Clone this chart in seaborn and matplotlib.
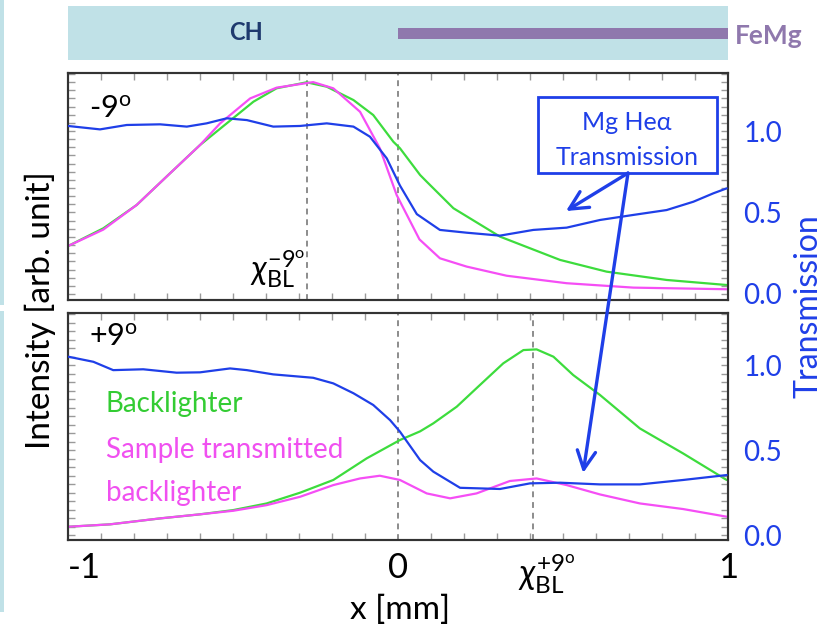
import matplotlib
matplotlib.use("Agg")
import matplotlib.pyplot as plt
import seaborn as sns
import pandas as pd
from matplotlib.patches import Rectangle, ConnectionPatch
from matplotlib.ticker import MultipleLocator, FixedLocator, NullFormatter, FormatStrFormatter
from matplotlib.transforms import ScaledTranslation

# ---------------- data ----------------
# -9 degree view
m9_bl_x = [-1.0, -0.893, -0.792, -0.691, -0.600, -0.519, -0.438, -0.368, -0.277, -0.216,
           -0.135, -0.075, -0.014, 0.006, 0.067, 0.087, 0.168, 0.309, 0.491, 0.632, 0.814, 0.996]
m9_bl_y = [0.294, 0.403, 0.546, 0.740, 0.914, 1.047, 1.180, 1.262, 1.299, 1.272,
           1.190, 1.098, 0.934, 0.894, 0.730, 0.689, 0.526, 0.352, 0.209, 0.137, 0.086, 0.055]

m9_st_x = [-1.0, -0.893, -0.792, -0.691, -0.600, -0.539, -0.448, -0.368, -0.257, -0.196,
           -0.115, -0.055, -0.004, 0.065, 0.127, 0.208, 0.329, 0.511, 0.713, 0.996]
m9_st_y = [0.294, 0.395, 0.546, 0.740, 0.914, 1.047, 1.200, 1.266, 1.300, 1.262,
           1.118, 0.894, 0.607, 0.335, 0.219, 0.168, 0.112, 0.066, 0.039, 0.029]

m9_tr_x = [-1.0, -0.903, -0.822, -0.721, -0.640, -0.580, -0.519, -0.458, -0.378, -0.297,
           -0.216, -0.135, -0.085, -0.034, 0.006, 0.057, 0.127, 0.208, 0.309, 0.410,
           0.511, 0.612, 0.713, 0.814, 0.895, 0.956, 0.996]
m9_tr_y = [1.031, 1.010, 1.037, 1.041, 1.027, 1.047, 1.078, 1.067, 1.027, 1.031,
           1.047, 1.027, 0.965, 0.832, 0.665, 0.490, 0.393, 0.376, 0.358, 0.393,
           0.407, 0.454, 0.485, 0.515, 0.566, 0.618, 0.648]

# +9 degree view
p9_bl_x = [-0.999, -0.873, -0.721, -0.600, -0.499, -0.398, -0.297, -0.196, -0.095, 0.006,
           0.067, 0.107, 0.178, 0.248, 0.319, 0.380, 0.420, 0.471, 0.531, 0.612, 0.733, 0.864, 0.996]
p9_bl_y = [0.049, 0.063, 0.098, 0.122, 0.147, 0.186, 0.249, 0.324, 0.451, 0.559,
           0.610, 0.657, 0.755, 0.882, 1.010, 1.088, 1.092, 1.049, 0.941, 0.824, 0.627, 0.480, 0.324]

p9_st_x = [-0.999, -0.873, -0.721, -0.600, -0.499, -0.398, -0.297, -0.196, -0.115, -0.055,
           0.006, 0.087, 0.158, 0.238, 0.339, 0.420, 0.511, 0.612, 0.733, 0.864, 0.996]
p9_st_y = [0.049, 0.063, 0.098, 0.122, 0.143, 0.176, 0.225, 0.294, 0.333, 0.349,
           0.324, 0.245, 0.216, 0.245, 0.318, 0.333, 0.294, 0.239, 0.186, 0.153, 0.108]

p9_tr_x = [-0.999, -0.923, -0.863, -0.772, -0.671, -0.600, -0.509, -0.458, -0.378, -0.257,
           -0.196, -0.135, -0.075, -0.024, 0.006, 0.067, 0.107, 0.188, 0.309, 0.400,
           0.491, 0.612, 0.733, 0.864, 0.996]
p9_tr_y = [1.049, 1.019, 0.970, 0.975, 0.955, 0.957, 0.980, 0.970, 0.945, 0.925,
           0.892, 0.834, 0.765, 0.676, 0.608, 0.441, 0.373, 0.278, 0.271, 0.304,
           0.308, 0.298, 0.298, 0.324, 0.353]

# backlighter peak positions (mm)
chi_bl_m9 = -0.277
chi_bl_p9 = 0.41

# target layers: CH everywhere, FeMg sample from x = 0 to the edge
femg_start, femg_end = 0.0, 1.0

x_ticks = [-1, 0, 1]
trans_ticks = [0.0, 0.5, 1.0]

# ---------------- style ----------------
sns.set_theme(style="white")
plt.rcParams["font.family"] = ["Lato", "DejaVu Sans"]
plt.rcParams["mathtext.fontset"] = "custom"
plt.rcParams["mathtext.rm"] = "Lato"
plt.rcParams["mathtext.it"] = "Lato:italic"
plt.rcParams["mathtext.bf"] = "Lato:bold"
plt.rcParams["mathtext.fallback"] = "stixsans"

GREEN = "#3ddc3d"
MAGENTA = "#f54ef5"
BLUE = "#1f3fe8"
LIGHT_BLUE = "#c0e1e7"
PURPLE = "#8f78ad"
NAVY = "#1f3a6e"
TICK_GRAY = "#9a9a9a"
SPINE = "#333333"

W, H = 825, 629
fig = plt.figure(figsize=(W / 100, H / 100), dpi=100)


def px_rect(x0, y0, x1, y1):
    return [x0 / W, 1 - y1 / H, (x1 - x0) / W, (y1 - y0) / H]


# thin decorative strip along the left edge
for y0, y1 in [(0, 305), (311, 612)]:
    fig.add_artist(Rectangle((0, 1 - y1 / H), 4 / W, (y1 - y0) / H,
                             transform=fig.transFigure, color=LIGHT_BLUE, lw=0))

# ---------------- target schematic ----------------
ax_bar = fig.add_axes(px_rect(68, 6, 728, 60))
ax_bar.set_xlim(-1, 1)
ax_bar.set_ylim(0, 1)
ax_bar.set_facecolor(LIGHT_BLUE)
for s in ax_bar.spines.values():
    s.set_visible(False)
ax_bar.set_xticks([])
ax_bar.set_yticks([])
ax_bar.add_patch(Rectangle((femg_start, 0.39), femg_end - femg_start, 0.2, color=PURPLE, lw=0))
ax_bar.text(-0.46, 0.5, "CH", ha="center", va="center", fontsize=17,
            fontweight="bold", color=NAVY)
ax_bar.text(1.021, 0.44, "FeMg", ha="left", va="center", fontsize=19,
            fontweight="bold", color=PURPLE, clip_on=False)

# ---------------- data panels ----------------
ax1 = fig.add_axes(px_rect(68, 73, 728, 300))
ax2 = fig.add_axes(px_rect(68, 313, 728, 540))

panels = [
    (ax1, (-0.037, 1.356), m9_bl_x, m9_bl_y, m9_st_x, m9_st_y, m9_tr_x, m9_tr_y,
     chi_bl_m9, "-9$^{\\rm o}$", 0.905),
    (ax2, (-0.029, 1.306), p9_bl_x, p9_bl_y, p9_st_x, p9_st_y, p9_tr_x, p9_tr_y,
     chi_bl_p9, "+9$^{\\rm o}$", 0.955),
]

twins = []
for ax, ylim, bx, by, sx, sy, tx, ty, chi, tag, tag_y in panels:
    ax.set_facecolor("white")
    ax.axvline(0, color="#8c8c8c", ls=(0, (3, 2.5)), lw=1.4, zorder=1)
    ax.axvline(chi, color="#8c8c8c", ls=(0, (3, 2.5)), lw=1.4, zorder=1)

    df_bl = pd.DataFrame({"x": bx, "y": by})
    df_st = pd.DataFrame({"x": sx, "y": sy})
    sns.lineplot(data=df_bl, x="x", y="y", ax=ax, color=GREEN, lw=1.6, legend=False,
                 estimator=None, zorder=3)
    sns.lineplot(data=df_st, x="x", y="y", ax=ax, color=MAGENTA, lw=1.6, legend=False,
                 estimator=None, zorder=3)

    axr = ax.twinx()
    df_tr = pd.DataFrame({"x": tx, "y": ty})
    sns.lineplot(data=df_tr, x="x", y="y", ax=axr, color=BLUE, lw=1.6, legend=False,
                 estimator=None, zorder=3)
    twins.append(axr)

    for a in (ax, axr):
        a.set_xlim(-1, 1)
        a.set_ylim(*ylim)
        a.set_xlabel("")
        a.set_ylabel("")
        for s in a.spines.values():
            s.set_color(SPINE)
            s.set_linewidth(1.5)

    # x ticks: minor marks every 0.1 mm on top and bottom spines
    ax.xaxis.set_minor_locator(MultipleLocator(0.1))
    ax.tick_params(axis="x", which="minor", direction="in", top=True, bottom=True,
                   length=5, width=1, color=TICK_GRAY)
    ax.tick_params(axis="x", which="major", direction="in", top=True, bottom=True,
                   length=0, labelsize=25, pad=9, labelcolor="black")

    # left intensity axis: unlabelled marks
    ax.yaxis.set_major_locator(MultipleLocator(0.05))
    ax.yaxis.set_major_formatter(NullFormatter())
    ax.tick_params(axis="y", which="major", direction="in", left=True, right=False,
                   length=5, width=1, color=TICK_GRAY)

    # right transmission axis
    axr.yaxis.set_major_locator(FixedLocator(trans_ticks))
    axr.yaxis.set_minor_locator(MultipleLocator(0.05))
    axr.yaxis.set_major_formatter(FormatStrFormatter("%.1f"))
    axr.tick_params(axis="y", which="both", direction="in", right=True, left=False,
                    length=5, width=1, color=TICK_GRAY)
    axr.tick_params(axis="y", which="major", labelsize=20, labelcolor=BLUE, pad=11)

    ax.text(0.032, tag_y, tag, transform=ax.transAxes, ha="left", va="top",
            fontsize=22, color="black")

ax1r, ax2r = twins

# x tick labels only on the lower panel; backlighter peak marked in the row
ax1.set_xticks(x_ticks)
ax1.set_xticklabels([])
ax2.set_xticks(x_ticks[:2] + [chi_bl_p9] + x_ticks[2:])
ax2.set_xticklabels(["-1", "0", r"$\chi^{+9^{\rm o}}_{\rm BL}$", "1"])
xlabels = ax2.get_xticklabels()
xlabels[0].set_horizontalalignment("left")
xlabels[2].set_transform(xlabels[2].get_transform()
                         + ScaledTranslation(14 / 100, 0, fig.dpi_scale_trans))

# backlighter peak label in the upper panel
ax1.text(chi_bl_m9 - 0.005, 0.02, r"$\chi^{-9^{\rm o}}_{\rm BL}$", ha="right", va="bottom",
         fontsize=24, color="black")

# curve labels in the lower panel
ax2.text(-0.885, 0.77, "Backlighter", fontsize=20, color="#33cc33", ha="left", va="center")
ax2.text(-0.885, 0.50, "Sample transmitted", fontsize=20, color="#f050f0",
         ha="left", va="center")
ax2.text(-0.885, 0.25, "backlighter", fontsize=20, color="#f050f0", ha="left", va="center")

# transmission call-out box with arrows into both panels
box_x0, box_x1 = 0.424, 0.967
box_y0, box_y1 = 0.742, 1.209
ax1r.add_patch(Rectangle((box_x0, box_y0), box_x1 - box_x0, box_y1 - box_y0,
                         fill=True, facecolor="white", edgecolor=BLUE, lw=2, zorder=5))
ax1r.text(0.694, 1.055, "Mg He\u03b1", ha="center", va="center", fontsize=18,
          color=BLUE, zorder=6, family=["Lato", "DejaVu Sans"])
ax1r.text(0.694, 0.84, "Transmission", ha="center", va="center", fontsize=18,
          color=BLUE, zorder=6)

arrow_start = (0.697, 0.742)
for target, target_ax in [((0.509, 0.509), ax1r), ((0.561, 0.365), ax2r)]:
    con = ConnectionPatch(xyA=arrow_start, coordsA=ax1r.transData,
                          xyB=target, coordsB=target_ax.transData,
                          arrowstyle="->,head_length=0.6,head_width=0.3",
                          mutation_scale=22, color=BLUE, lw=2.4, zorder=10)
    fig.add_artist(con)

# shared axis titles
fig.text(40 / W, 1 - 310 / H, "Intensity [arb. unit]", rotation=90, ha="center",
         va="center", fontsize=24, color="black")
fig.text(809 / W, 1 - 306 / H, "Transmission", rotation=90, ha="center",
         va="center", fontsize=23, color=BLUE)
fig.text(400 / W, 1 - 610 / H, "x [mm]", ha="center", va="center", fontsize=24,
         color="black")

fig.savefig("out.png", dpi=100, facecolor="white")
